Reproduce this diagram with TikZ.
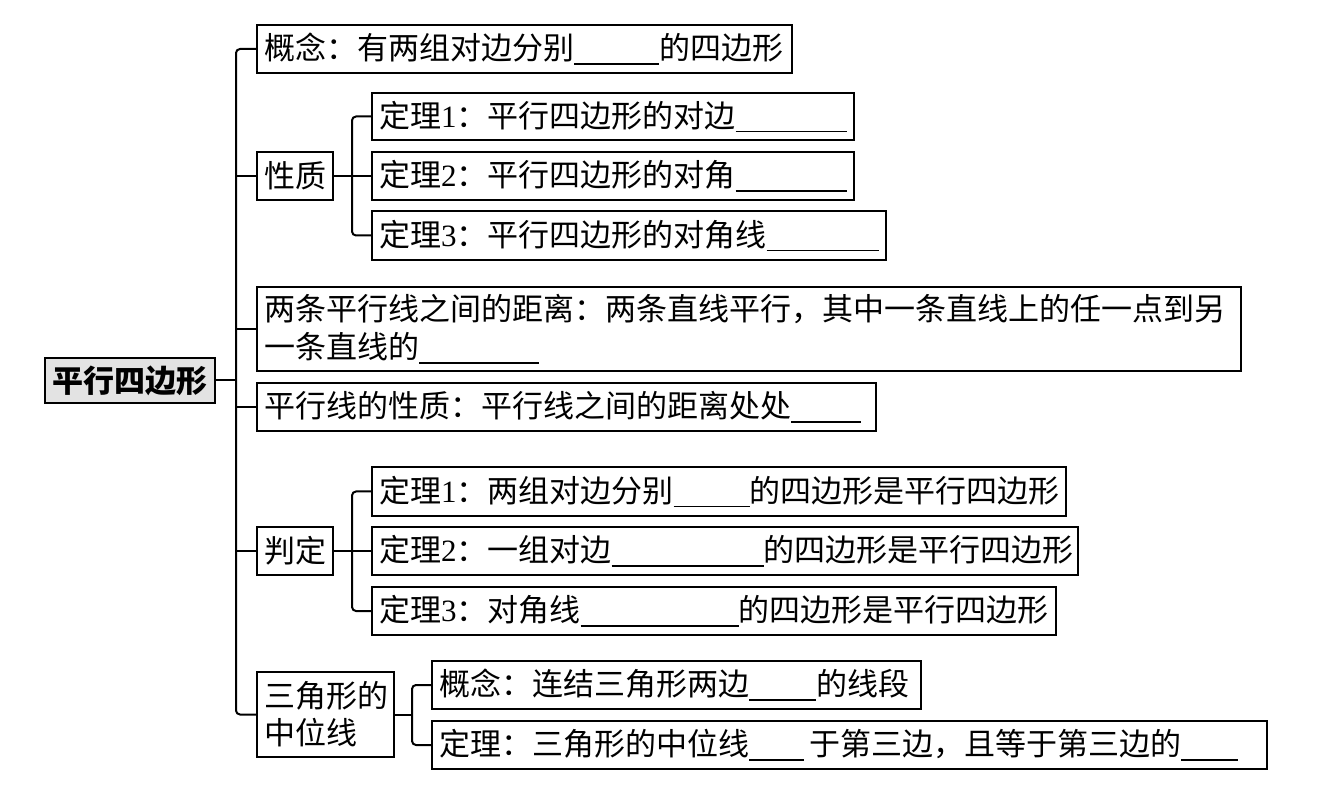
\documentclass[tikz,border=0pt]{standalone}
\usepackage{fontspec}
\setmainfont{Noto Sans CJK SC}
\newfontfamily\lat{Liberation Serif}
\usetikzlibrary{calc}
\newcommand\blank[1]{\rule[-2.5pt]{#1pt}{0.8pt}}
\newcommand\dg[1]{{\lat #1}}
\begin{document}
\begin{tikzpicture}[x=0.5pt,y=-0.5pt,
  box/.style={draw, line width=1pt, anchor=west, inner xsep=3.5pt, inner ysep=0pt,
    align=left, minimum height=24pt, font=\fontsize{15.5}{19}\selectfont},
  rootbox/.style={draw, line width=1.2pt, fill=gray!22, minimum width=85pt,
    minimum height=22.5pt, inner sep=0pt, font=\fontsize{15.5}{19}\selectfont\bfseries},
  conn/.style={line width=1pt, rounded corners=2pt}]
\useasboundingbox (0,0) rectangle (1327,806);
\fill[white] (0,0) rectangle (1327,806);

\node[rootbox] (root) at (130,380.5) {平行四边形};

\node[box, text width=260.5pt] (A) at (256,49) {概念：有两组对边分别\blank{42.5}的四边形};

\node[box, text width=31pt] (xz) at (256,176) {性质};
\node[box, text width=234pt, minimum height=23.5pt] (X1) at (371,116.5) {定理\dg{1}：平行四边形的对边\blank{55.5}};
\node[box, text width=234pt] (X2) at (371,176) {定理\dg{2}：平行四边形的对角\blank{55.5}};
\node[box, text width=250pt, minimum height=24.5pt] (X3) at (371,235.5) {定理\dg{3}：平行四边形的对角线\blank{56}};

\node[box, text width=485pt, minimum height=42pt] (D) at (256,329) {两条平行线之间的距离：两条直线平行，其中一条直线上的任一点到另\\一条直线的\blank{60}};

\node[box, text width=302.5pt] (P) at (256,407) {平行线的性质：平行线之间的距离处处\blank{35}};

\node[box, text width=31pt] (pd) at (256,551) {判定};
\node[box, text width=340pt, minimum height=24.5pt] (J1) at (371,491.5) {定理\dg{1}：两组对边分别\blank{38}的四边形是平行四边形};
\node[box, text width=346pt] (J2) at (371,551) {定理\dg{2}：一组对边\blank{76}的四边形是平行四边形};
\node[box, text width=335pt] (J3) at (371,611) {定理\dg{3}：对角线\blank{79}的四边形是平行四边形};

\node[box, text width=61.5pt, minimum height=42.5pt, font=\fontsize{15.5}{18.5}\selectfont] (M) at (256,714.5) {三角形的\\中位线};
\node[box, text width=237.5pt] (M1) at (431,685) {概念：连结三角形两边\blank{33.5}的线段};
\node[box, text width=410.5pt] (M2) at (431,745) {定理：三角形的中位线\blank{27.5}\,于第三边，且等于第三边的\blank{28.5}};

% main trunk
\draw[conn] (A.west) -- ++(-20,0) |- (M.west);
\draw[conn] (root.east) -- (root.east -| {$(A.west)+(-20,0)$});
\draw[conn] (xz.west) -- ++(-20,0);
\draw[conn] (D.west) -- ++(-20,0);
\draw[conn] (P.west) -- ++(-20,0);
\draw[conn] (pd.west) -- ++(-20,0);

% property bracket
\draw[conn] (X1.west) -- ++(-19,0) |- (X3.west);
\draw[conn] (xz.east) -- (X2.west);

% test bracket
\draw[conn] (J1.west) -- ++(-19,0) |- (J3.west);
\draw[conn] (pd.east) -- (J2.west);

% midline bracket
\coordinate (mt) at ($(M1.west)+(-19,0)$);
\draw[conn] (M1.west) -- (mt) |- (M2.west);
\draw[conn] (M.east) -- (M.east -| mt);
\end{tikzpicture}
\end{document}
